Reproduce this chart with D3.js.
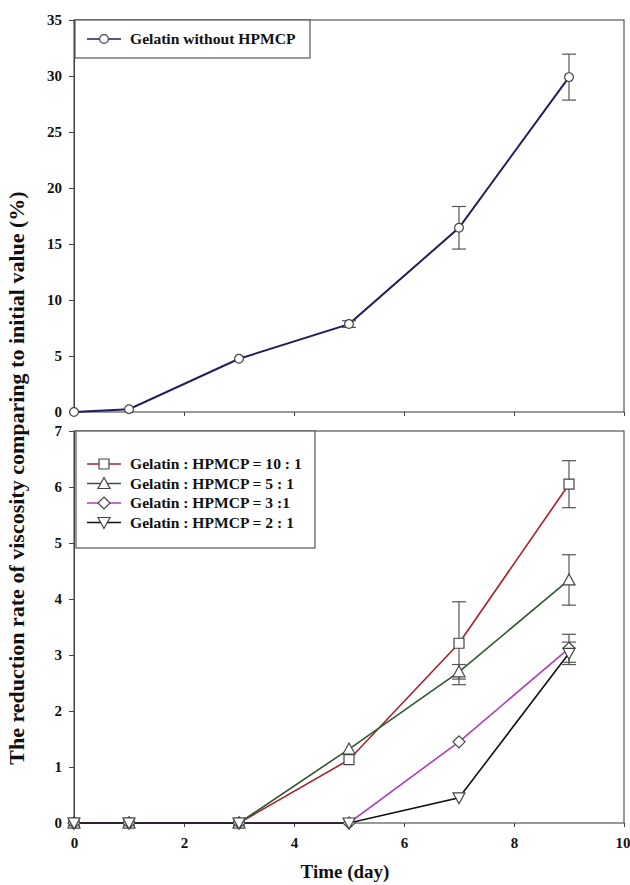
<!DOCTYPE html>
<html lang="en">
<head>
	<meta charset="utf-8">
	<script src="https://d3js.org/d3.v7.min.js"></script>
	<style type="text/css">
		body { margin: 0; background: #fff; }
		text { font-family: "Liberation Serif", "Times New Roman", serif; font-weight: bold; }
	</style>
</head>
<body>
	<script type="text/javascript">

	// time points (day)
	var days = [0, 1, 3, 5, 7, 9];

	// top panel
	var gelatin    = [0, 0.25, 4.75, 7.85, 16.45, 29.9];
	var gelatinErr = [0, 0, 0, 0.3, 1.9, 2.05];

	// bottom panel
	var r10    = [0, 0, 0, 1.13, 3.21, 6.05];
	var r10Err = [0, 0, 0, 0, 0.74, 0.42];
	var r5     = [0, 0, 0, 1.32, 2.7, 4.34];
	var r5Err  = [0, 0, 0, 0, 0.13, 0.45];
	var r3     = [0, 0, 0, 0, 1.45, 3.12];
	var r3Err  = [0, 0, 0, 0, 0, 0.25];
	var r2     = [0, 0, 0, 0, 0.45, 3.03];
	var r2Err  = [0, 0, 0, 0, 0, 0.2];

	var xTicks = [0, 2, 4, 6, 8, 10];
	var topTicks = [0, 5, 10, 15, 20, 25, 30, 35];
	var botTicks = [0, 1, 2, 3, 4, 5, 6, 7];

	var topSeries = [
		{name: "Gelatin without HPMCP", values: gelatin, err: gelatinErr, color: "#1f1f5c", shape: "circle"}
	];
	var botSeries = [
		{name: "Gelatin : HPMCP = 10 : 1", values: r10, err: r10Err, color: "#a8202e", shape: "square"},
		{name: "Gelatin : HPMCP = 5 : 1", values: r5, err: r5Err, color: "#2d5a2d", shape: "triangle"},
		{name: "Gelatin : HPMCP = 3 :1", values: r3, err: r3Err, color: "#b03cbc", shape: "diamond"},
		{name: "Gelatin : HPMCP = 2 : 1", values: r2, err: r2Err, color: "#111111", shape: "down"}
	];

	var width = 630, height = 885;
	var left = 74, right = 624;

	var svg = d3.select("body").append("svg")
		.attr("width", width)
		.attr("height", height);

	var x = d3.scaleLinear().domain([0, 10]).range([left, right]);
	var yTop = d3.scaleLinear().domain([0, 35]).range([412, 20]);
	var yBot = d3.scaleLinear().domain([0, 7]).range([823, 431]);

	function markerPath(shape) {
		if (shape == "circle") return d3.symbol(d3.symbolCircle, 60)();
		if (shape == "square") return "M-5,-5H5V5H-5Z";
		if (shape == "triangle") return "M0,-6L6,5H-6Z";
		if (shape == "down") return "M0,6L6,-5H-6Z";
		if (shape == "diamond") return "M0,-6L6,0L0,6L-6,0Z";
	}

	function drawPanel(series, y, ticks, showXLabels) {
		var g = svg.append("g");

		// frame
		g.append("rect")
			.attr("x", left).attr("y", y.range()[1])
			.attr("width", right - left).attr("height", y.range()[0] - y.range()[1])
			.attr("fill", "none").attr("stroke", "#555").attr("stroke-width", 1.2);

		var yAxis = g.append("g")
			.attr("transform", "translate(" + left + ",0)")
			.call(d3.axisLeft(y).tickValues(ticks).tickSize(5).tickPadding(7).tickFormat(d3.format("d")));
		yAxis.selectAll("text").style("font-size", "15px").attr("fill", "#111");
		yAxis.selectAll("line, path").attr("stroke", "#444");

		var xAxis = g.append("g")
			.attr("transform", "translate(0," + y.range()[0] + ")")
			.call(d3.axisBottom(x).tickValues(xTicks).tickSize(4).tickPadding(10)
				.tickFormat(showXLabels ? d3.format("d") : ""));
		xAxis.selectAll("text").style("font-size", "15px").attr("fill", "#111");
		xAxis.selectAll("line, path").attr("stroke", "#444");
		xAxis.select(".domain").remove();
		// keep the last label inside the page
		xAxis.selectAll("text").filter(function(d) { return d == 10; })
			.attr("text-anchor", "end").attr("x", 6);

		var line = d3.line()
			.x(function(d, i) { return x(days[i]); })
			.y(function(d) { return y(d); });

		series.forEach(function(s) {
			g.append("path")
				.datum(s.values)
				.attr("d", line)
				.attr("fill", "none")
				.attr("stroke", s.color)
				.attr("stroke-width", s.shape == "circle" ? 2 : 1.6);
		});

		series.forEach(function(s) {
			var eb = g.append("g").selectAll("g")
				.data(s.values.map(function(v, i) { return {x: days[i], v: v, e: s.err[i]}; })
					.filter(function(d) { return d.e > 0; }))
				.enter().append("g")
				.attr("stroke", "#555").attr("stroke-width", 1.2);
			eb.append("line")
				.attr("x1", function(d) { return x(d.x); }).attr("x2", function(d) { return x(d.x); })
				.attr("y1", function(d) { return y(d.v + d.e); }).attr("y2", function(d) { return y(d.v - d.e); });
			eb.append("line")
				.attr("x1", function(d) { return x(d.x) - 7; }).attr("x2", function(d) { return x(d.x) + 7; })
				.attr("y1", function(d) { return y(d.v + d.e); }).attr("y2", function(d) { return y(d.v + d.e); });
			eb.append("line")
				.attr("x1", function(d) { return x(d.x) - 7; }).attr("x2", function(d) { return x(d.x) + 7; })
				.attr("y1", function(d) { return y(d.v - d.e); }).attr("y2", function(d) { return y(d.v - d.e); });
		});

		series.forEach(function(s) {
			g.append("g").selectAll("path")
				.data(s.values)
				.enter().append("path")
				.attr("d", markerPath(s.shape))
				.attr("transform", function(d, i) { return "translate(" + x(days[i]) + "," + y(d) + ")"; })
				.attr("fill", "#fff")
				.attr("stroke", "#444")
				.attr("stroke-width", 1.2);
		});
		return g;
	}

	drawPanel(topSeries, yTop, topTicks, false);
	drawPanel(botSeries, yBot, botTicks, true);

	// legends
	function drawLegend(series, bx, by, bw, bh, firstY, step) {
		var lg = svg.append("g");
		lg.append("rect")
			.attr("x", bx).attr("y", by).attr("width", bw).attr("height", bh)
			.attr("fill", "#fff").attr("stroke", "#555").attr("stroke-width", 1.2);
		var item = lg.selectAll("g.item")
			.data(series)
			.enter().append("g")
			.attr("class", "item")
			.attr("transform", function(d, i) { return "translate(0," + (firstY + i * step) + ")"; });
		item.append("line")
			.attr("x1", 87).attr("x2", 121).attr("y1", 0).attr("y2", 0)
			.attr("stroke", function(d) { return d.color; })
			.attr("stroke-width", 1.6);
		item.append("path")
			.attr("d", function(d) { return markerPath(d.shape); })
			.attr("transform", "translate(104,0)")
			.attr("fill", "#fff").attr("stroke", "#444").attr("stroke-width", 1.2);
		item.append("text")
			.attr("x", 130).attr("dy", "0.35em")
			.style("font-size", "15.6px").attr("fill", "#111")
			.text(function(d) { return d.name; });
	}

	drawLegend(topSeries, 75, 20, 235, 38, 39, 0);
	drawLegend(botSeries, 76, 431, 239, 117, 464, 19.5);

	// axis titles
	svg.append("text")
		.attr("transform", "translate(24,478) rotate(-90)")
		.attr("text-anchor", "middle")
		.style("font-size", "22px").attr("fill", "#111")
		.text("The reduction rate of viscosity comparing to initial value (%)");

	svg.append("text")
		.attr("x", 345).attr("y", 878)
		.attr("text-anchor", "middle")
		.style("font-size", "19px").attr("fill", "#111")
		.text("Time (day)");
	</script>
</body>
</html>
